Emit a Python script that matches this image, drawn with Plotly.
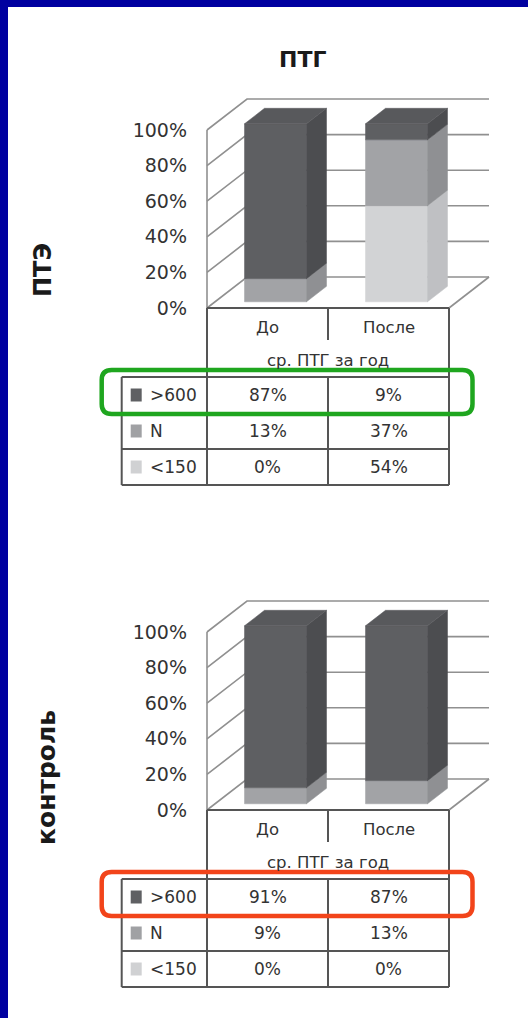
import plotly.graph_objects as go

# ---------------- data ----------------
categories = ["До", "После"]
series_names = [">600", "N", "<150"]

# ПТЭ group: share of patients by mean yearly PTH level
pte_over600 = [87, 9]
pte_normal = [13, 37]
pte_under150 = [0, 54]

# control group
ctrl_over600 = [91, 87]
ctrl_normal = [9, 13]
ctrl_under150 = [0, 0]

tick_values = [0, 20, 40, 60, 80, 100]
tick_labels = ["0%", "20%", "40%", "60%", "80%", "100%"]

title_text = "ПТГ"
group_labels = ["ПТЭ", "контроль"]
table_caption = "ср. ПТГ за год"

# ---------------- styling / geometry ----------------
W, H = 528, 1018
PX_PER_CAT = 121.0      # horizontal pixels per category slot
PX_PER_PCT = 1.78       # vertical pixels per percentage point
ORIGIN_PX = 207.0       # left edge of the plot floor
FLOOR_PY = [308.0, 810.0]  # front 0% line of each panel (page pixels)

DX = 40.0 / PX_PER_CAT  # depth of the 3-D box, category units
DY = 31.0 / PX_PER_PCT  # depth of the 3-D box, percent units
BW = 62.0 / PX_PER_CAT  # bar width
D0, D1 = 0.2, 0.7       # bar front/back depth fractions

FONT = "DejaVu Sans, Arial, sans-serif"
TEXT_COLOR = "#333333"
GRID_COLOR = "#909090"
TABLE_COLOR = "#555555"
BORDER_BLUE = "#0000a0"

SEG_COLORS = {
    "<150": dict(front="#d2d3d5", side="#bfc0c3", top="#c9cacc", key="#d0d1d3"),
    "N": dict(front="#a2a3a6", side="#8f9093", top="#98999c", key="#a0a1a4"),
    ">600": dict(front="#5e5f62", side="#4c4d50", top="#58595c", key="#5f6063"),
}


def px_to_pct(dpx):
    return dpx / PX_PER_PCT


def px_to_cat(dpx):
    return dpx / PX_PER_CAT


panels = [
    dict(xa="x", ya="y", series={">600": pte_over600, "N": pte_normal, "<150": pte_under150},
         label=group_labels[0], frame="#1fa61f"),
    dict(xa="x2", ya="y2", series={">600": ctrl_over600, "N": ctrl_normal, "<150": ctrl_under150},
         label=group_labels[1], frame="#f2441a"),
]

fig = go.Figure()
shapes = []
annotations = []


def poly(xa, ya, xs, ys, color, width=0.5):
    fig.add_trace(go.Scatter(
        x=list(xs) + [xs[0]], y=list(ys) + [ys[0]], xaxis=xa, yaxis=ya,
        mode="lines", fill="toself", fillcolor=color,
        line=dict(color=color, width=width), hoverinfo="skip", showlegend=False))


def line(xa, ya, xs, ys, color, width):
    fig.add_trace(go.Scatter(
        x=xs, y=ys, xaxis=xa, yaxis=ya, mode="lines",
        line=dict(color=color, width=width), hoverinfo="skip", showlegend=False))


def text(xa, ya, x, y, s, size, anchor="center", color=TEXT_COLOR, **kw):
    annotations.append(dict(x=x, y=y, xref=xa, yref=ya, text=s, showarrow=False,
                            xanchor=anchor, yanchor="middle",
                            font=dict(family=FONT, size=size, color=color), **kw))


n_cat = len(categories)

for p in panels:
    xa, ya = p["xa"], p["ya"]

    # --- walls and gridlines ---
    line(xa, ya, [0, 0], [tick_values[0], tick_values[-1]], GRID_COLOR, 1.6)
    for t in tick_values:
        line(xa, ya, [0, DX, n_cat + DX], [t, t + DY, t + DY], GRID_COLOR, 1.6)
    line(xa, ya, [n_cat, n_cat + DX], [0, DY], GRID_COLOR, 1.6)

    # --- stacked 3-D bars ---
    ox, oy = D0 * DX, D0 * DY
    bdx, bdy = (D1 - D0) * DX, (D1 - D0) * DY
    for i in range(n_cat):
        x0 = i + 0.5 - BW / 2 + ox
        x1 = x0 + BW
        base = 0.0
        stack = [s for s in ["<150", "N", ">600"] if p["series"][s][i] > 0]
        for k, s in enumerate(stack):
            v = p["series"][s][i]
            lo, hi = base + oy, base + v + oy
            c = SEG_COLORS[s]
            poly(xa, ya, [x0, x1, x1, x0], [lo, lo, hi, hi], c["front"])
            poly(xa, ya, [x1, x1 + bdx, x1 + bdx, x1], [lo, lo + bdy, hi + bdy, hi], c["side"])
            if k == len(stack) - 1:
                poly(xa, ya, [x0, x1, x1 + bdx, x0 + bdx], [hi, hi, hi + bdy, hi + bdy], c["top"])
            base += v

    # --- data table below the floor ---
    head_bottom = -px_to_pct(32)
    row_top = -px_to_pct(69)
    row_h = px_to_pct(36)
    left = -px_to_cat(85.3)
    table_bottom = row_top - 3 * row_h

    line(xa, ya, [0, n_cat], [0, 0], TABLE_COLOR, 2)
    line(xa, ya, [0, 0], [0, table_bottom], TABLE_COLOR, 2)
    line(xa, ya, [n_cat, n_cat], [0, table_bottom], TABLE_COLOR, 2)
    for c in range(1, n_cat):
        line(xa, ya, [c, c], [0, head_bottom], TABLE_COLOR, 2)
        line(xa, ya, [c, c], [row_top, table_bottom], TABLE_COLOR, 2)
    for r in range(4):
        yy = row_top - r * row_h
        line(xa, ya, [left, n_cat], [yy, yy], TABLE_COLOR, 2)
    line(xa, ya, [left, left], [row_top, table_bottom], TABLE_COLOR, 2)

    for i, cat in enumerate(categories):
        text(xa, ya, i + 0.5, -px_to_pct(19), cat, 16.5)
    text(xa, ya, n_cat / 2, -px_to_pct(52), table_caption, 16.5)

    for r, s in enumerate(series_names):
        ymid = row_top - (r + 0.5) * row_h
        kx0 = left + px_to_cat(9)
        shapes.append(dict(type="rect", xref=xa, yref=ya,
                           x0=kx0, x1=kx0 + px_to_cat(11),
                           y0=ymid - px_to_pct(6.5), y1=ymid + px_to_pct(6.5),
                           fillcolor=SEG_COLORS[s]["key"], line=dict(width=0)))
        text(xa, ya, left + px_to_cat(26), ymid, s, 17, anchor="left")
        for i in range(n_cat):
            text(xa, ya, i + 0.5, ymid, f"{p['series'][s][i]}%", 17)

    # --- rounded highlight frame around the first table row ---
    fx0, fx1 = -px_to_cat(105.3), n_cat + px_to_cat(23.5)
    fy_top = row_top + px_to_pct(7)
    fy_bot = row_top - row_h - px_to_pct(1)
    rx, ry = px_to_cat(10), px_to_pct(10)
    path = (f"M {fx0 + rx},{fy_top} L {fx1 - rx},{fy_top} Q {fx1},{fy_top} {fx1},{fy_top - ry} "
            f"L {fx1},{fy_bot + ry} Q {fx1},{fy_bot} {fx1 - rx},{fy_bot} "
            f"L {fx0 + rx},{fy_bot} Q {fx0},{fy_bot} {fx0},{fy_bot + ry} "
            f"L {fx0},{fy_top - ry} Q {fx0},{fy_top} {fx0 + rx},{fy_top} Z")
    shapes.append(dict(type="path", path=path, xref=xa, yref=ya,
                       line=dict(color=p["frame"], width=4.5)))

# --- page border (blue strips on top and left) ---
shapes.append(dict(type="rect", xref="paper", yref="paper", x0=0, x1=8 / W, y0=0, y1=1,
                   fillcolor=BORDER_BLUE, line=dict(width=0), layer="above"))
shapes.append(dict(type="rect", xref="paper", yref="paper", x0=0, x1=1, y0=1 - 7 / H, y1=1,
                   fillcolor=BORDER_BLUE, line=dict(width=0), layer="above"))

# --- titles ---
text("paper", "paper", 302 / W, 1 - 60 / H, f"<b>{title_text}</b>", 22, color="#1a1a1a")
text("paper", "paper", 43 / W, 1 - 270 / H, f"<b>{group_labels[0]}</b>", 24, color="#1a1a1a",
     textangle=-90)
text("paper", "paper", 46 / W, 1 - 778 / H, f"<b>{group_labels[1]}</b>", 25, color="#1a1a1a",
     textangle=-90)

# --- axes: percent scale on y, category slots on x ---
x_range = [px_to_cat(-ORIGIN_PX), px_to_cat(W - ORIGIN_PX)]
half = H / 2
ranges_y = []
for k, fpy in enumerate(FLOOR_PY):
    local = fpy - k * half
    ranges_y.append([px_to_pct(local - half), px_to_pct(local)])

axis_common = dict(showgrid=False, zeroline=False, showline=False, fixedrange=True)
yaxis_common = dict(axis_common, tickvals=tick_values, ticktext=tick_labels, ticks="",
                    tickfont=dict(family=FONT, size=19, color=TEXT_COLOR),
                    anchor="free", position=ORIGIN_PX / W, ticklabelstandoff=20)

fig.update_layout(
    width=W, height=H,
    margin=dict(l=0, r=0, t=0, b=0),
    paper_bgcolor="white", plot_bgcolor="white",
    showlegend=False,
    xaxis=dict(axis_common, domain=[0, 1], range=x_range, visible=False, anchor="y"),
    yaxis=dict(yaxis_common, domain=[0.5, 1], range=ranges_y[0]),
    xaxis2=dict(axis_common, domain=[0, 1], range=x_range, visible=False, anchor="y2"),
    yaxis2=dict(yaxis_common, domain=[0, 0.5], range=ranges_y[1]),
    shapes=shapes,
    annotations=annotations,
)

fig.write_html("out.html")
